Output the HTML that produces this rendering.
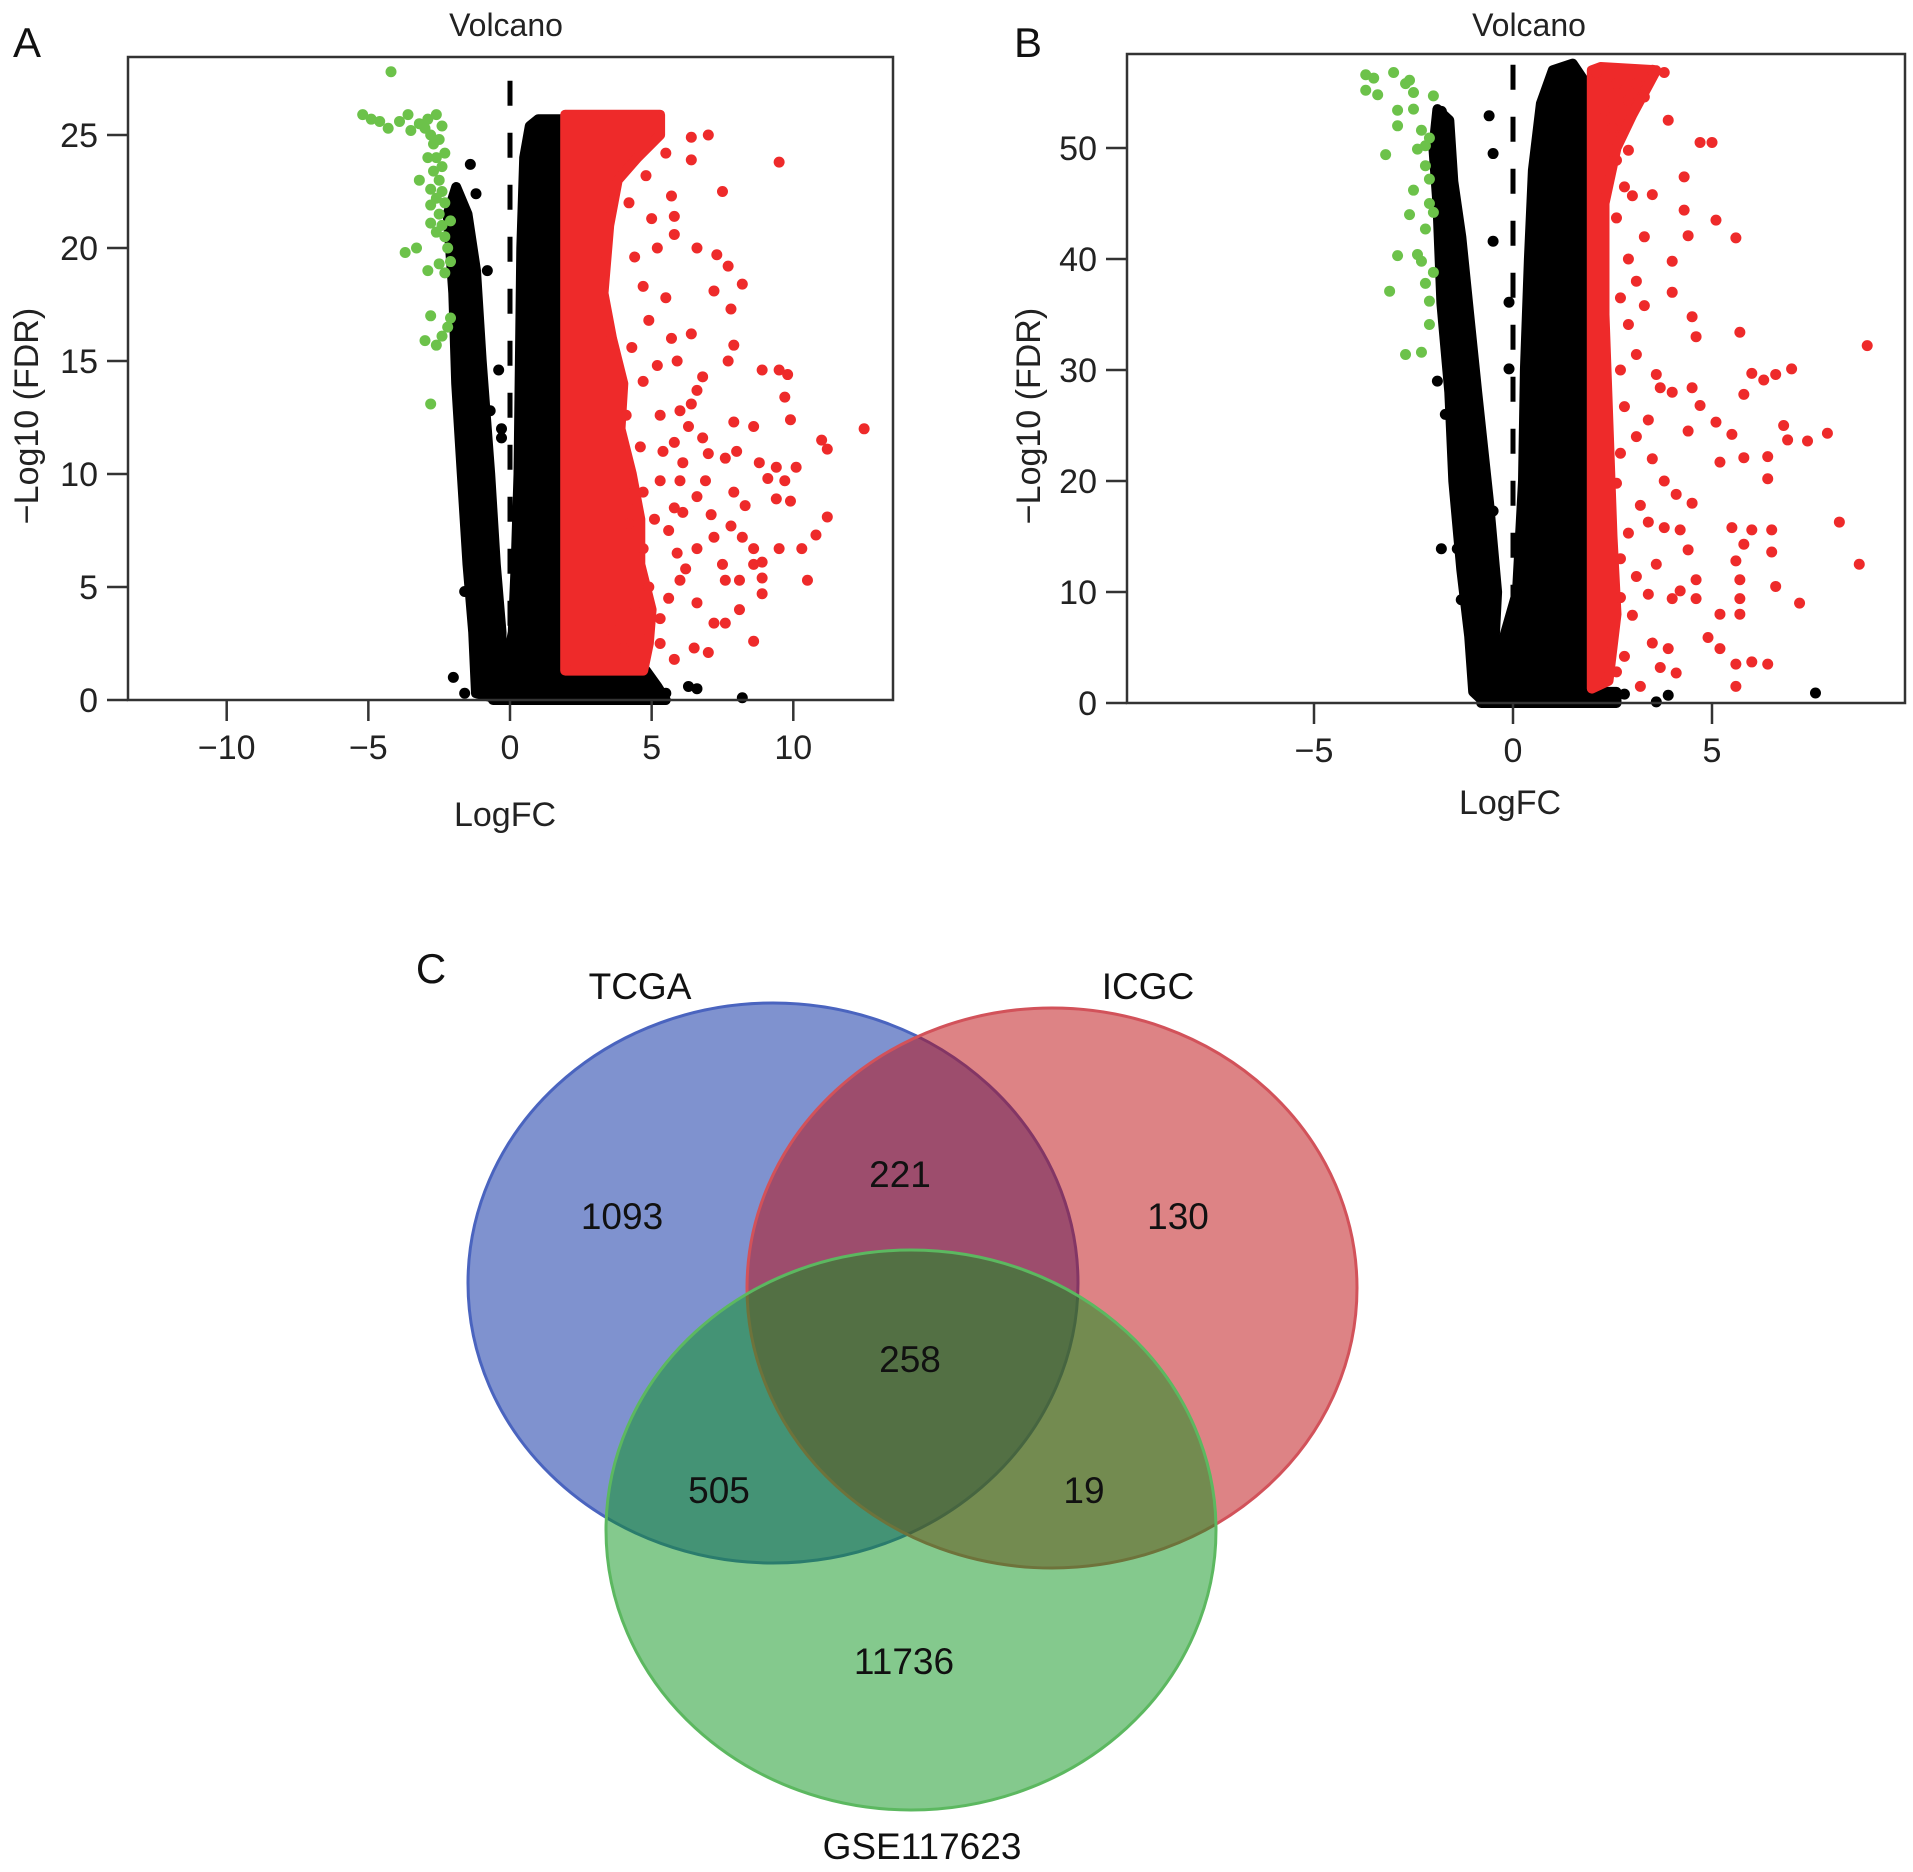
<!DOCTYPE html>
<html><head><meta charset="utf-8"><style>
html,body{margin:0;padding:0;background:#fff;}
svg{display:block;font-family:"Liberation Sans",Arial,sans-serif;}
</style></head><body>
<svg id="fig" width="1913" height="1872" viewBox="0 0 1913 1872" xmlns="http://www.w3.org/2000/svg">
<g id="panelA"></g>
<g id="panelB"></g>
<g id="venn">
  <text x="431" y="983" font-size="42" fill="#111" text-anchor="middle">C</text>
  <ellipse cx="773" cy="1283" rx="305" ry="280" fill="rgba(0,38,160,0.5)" stroke="#4a64bf" stroke-width="3"/>
  <ellipse cx="1052" cy="1288" rx="305" ry="280" fill="rgba(187,7,11,0.5)" stroke="#d2525a" stroke-width="3"/>
  <ellipse cx="911" cy="1530" rx="305" ry="280" fill="rgba(9,147,27,0.5)" stroke="#5cb860" stroke-width="3"/>
  <g font-size="37" fill="#111" text-anchor="middle">
    <text x="640" y="999">TCGA</text>
    <text x="1148" y="999">ICGC</text>
    <text x="922" y="1859">GSE117623</text>
    <text x="622" y="1229">1093</text>
    <text x="900" y="1187">221</text>
    <text x="1178" y="1229">130</text>
    <text x="910" y="1372">258</text>
    <text x="719" y="1503">505</text>
    <text x="1084" y="1503">19</text>
    <text x="904" y="1674">11736</text>
  </g>
</g>
</svg>
<script>
// ---------- Panel A data ----------
const aXTicks = [-10, -5, 0, 5, 10];
const aYTicks = [0, 5, 10, 15, 20, 25];
const aGreen = [[-4.2,27.8],[-5.2,25.9],[-4.9,25.7],[-4.6,25.6],[-4.3,25.3],[-3.9,25.6],[-3.6,25.9],[-3.5,25.2],[-3.2,25.5],[-3.0,25.3],[-2.9,25.7],[-2.6,25.9],[-2.4,25.4],[-2.8,25],[-2.7,24.6],[-2.5,24.8],[-2.3,24.2],[-2.6,24],[-2.9,24],[-2.4,23.6],[-2.7,23.4],[-3.2,23],[-2.5,23],[-2.8,22.6],[-2.4,22.5],[-2.6,22.2],[-2.3,22],[-2.8,21.9],[-2.5,21.5],[-2.8,21.1],[-2.4,21],[-2.6,20.7],[-2.3,20.5],[-2.1,21.2],[-2.2,20],[-3.7,19.8],[-3.3,20],[-2.9,19],[-2.5,19.3],[-2.1,19.4],[-2.3,18.9],[-2.8,17],[-2.1,16.9],[-3.0,15.9],[-2.4,16.1],[-2.6,15.7],[-2.2,16.5],[-2.8,13.1]];
const aRed = [[7.0,25.0],[6.4,24.9],[9.5,23.8],[6.4,23.9],[7.5,22.5],[5.7,22.3],[5.8,21.4],[5.8,20.6],[5.0,21.3],[6.6,20],[5.2,20],[7.3,19.7],[7.7,19.2],[8.2,18.4],[7.2,18.1],[5.5,17.8],[4.7,18.3],[7.8,17.3],[6.4,16.2],[7.9,15.7],[7.7,15],[9.5,14.6],[8.9,14.6],[9.8,14.4],[9.7,13.4],[12.5,12],[9.9,12.4],[11,11.5],[11.2,11.1],[8.6,12.1],[7.9,12.3],[6.8,14.3],[6.4,13.1],[10.1,10.3],[9.4,10.3],[8.8,10.5],[9.7,9.7],[9.1,9.8],[9.4,8.9],[9.9,8.8],[11.2,8.1],[10.8,7.3],[10.3,6.7],[10.5,5.3],[9.5,6.7],[8.9,6.1],[8.6,6],[8.9,5.4],[8.1,5.3],[7.6,5.3],[8.9,4.7],[8.6,2.6],[7,2.1],[8.1,4],[7.6,3.4],[7.2,3.4],[6.6,4.3],[6,5.3],[6.6,6.7],[7.2,7.2],[7.8,7.7],[6.6,9.0],[6,9.7],[5.8,11.4],[7,10.9],[7.6,10.7],[6.3,12.1],[5.3,12.6],[6.6,13.7],[4.7,14.1],[5.2,14.8],[5.7,16],[4.9,16.8],[6.5,2.3],[5.8,1.8],[5.3,3.6],[4.9,5],[4.7,6.7],[4.7,9.2],[4.6,11.2],[5.8,8.5],[5.3,9.7],[6.9,9.7],[7.9,9.2],[8.2,7.2],[8.6,6.7],[7.5,6],[6.2,5.8],[3.6,3.1],[4,2.3],[5.6,7.5],[6.1,8.3],[5.1,8.0],[5.4,11.0],[6.0,12.8],[5.9,15.0],[4.3,15.6],[4.4,19.6],[4.2,22.0],[5.5,24.2],[4.8,23.2],[6.1,10.5],[5.6,4.5],[4.4,4.2],[4.2,7.8],[4.1,12.6],[5.3,2.5],[5.9,6.5],[7.1,8.2],[6.8,11.6],[8.3,8.6],[8.0,11.0]];
const aBlack = [[5.5,0.3],[6.3,0.6],[6.6,0.5],[8.2,0.1],[-2.0,1],[-1.6,0.3],[-1.4,5.5],[-1.2,5.3],[-1.6,4.8],[-1.3,4.3],[-2.0,20.9],[-1.4,23.7],[-1.2,22.4],[-0.8,19],[-0.4,14.6],[-0.3,12],[-0.3,11.6],[-1.0,10.2],[-1.2,8.5],[-0.7,12.8]];
const aBlackMain = [[-0.6,0],[-0.2,1],[0.1,3],[0.2,6],[0.3,10],[0.35,15],[0.4,20],[0.5,24],[0.7,25.4],[1.0,25.7],[1.9,25.7],[1.9,1.3],[4.8,1.3],[5.2,0.6],[5.5,0]];
const aBlackArm = [[-1.2,0.3],[-1.3,3],[-1.5,6],[-1.7,10],[-1.9,14],[-2.0,18],[-2.2,21.5],[-1.9,22.7],[-1.5,21.5],[-1.2,19],[-1.0,15],[-0.7,10],[-0.5,6],[-0.3,3],[-0.3,0]];
const aRedBand = [[1.95,1.3],[1.95,25.9],[5.3,25.9],[5.3,25],[4.5,24],[3.8,23],[3.5,21],[3.3,18],[3.6,16],[4.0,14],[3.9,12],[4.3,10],[4.6,8],[4.6,6],[5.0,4],[4.9,2.5],[4.7,1.3]];
const aDash = [0, 27.4];

// ---------- Panel B data ----------
const bXTicks = [-5, 0, 5];
const bYTicks = [0, 10, 20, 30, 40, 50];
const bGreen = [[-3.7,56.6],[-3.5,56.3],[-3.0,56.8],[-2.6,56.1],[-2.7,55.8],[-3.7,55.2],[-3.4,54.8],[-2.5,55],[-2.0,54.7],[-2.9,53.4],[-2.5,53.5],[-2.9,52],[-2.3,51.6],[-2.1,50.9],[-2.4,49.9],[-2.2,50.2],[-3.2,49.4],[-2.2,48.4],[-2.5,46.2],[-2.1,47.2],[-2.1,45],[-2.0,44.2],[-2.6,44],[-2.2,42.7],[-2.9,40.3],[-2.4,40.4],[-2.3,39.8],[-2,38.8],[-3.1,37.1],[-2.2,37.8],[-2.1,36.2],[-2.1,34.1],[-2.7,31.4],[-2.3,31.6]];
const bRed = [[8.9,32.2],[8.2,16.3],[8.7,12.5],[7.9,24.3],[7.4,23.6],[6.9,23.7],[6.8,25],[7.0,30.1],[6.6,29.6],[6.3,29.1],[6.0,29.7],[5.8,27.8],[5.7,33.4],[5.6,41.9],[5.1,43.5],[4.7,50.5],[5.0,50.5],[4.3,47.4],[4.3,44.4],[4.4,42.1],[3.9,52.5],[3.5,45.8],[4.0,39.8],[4.0,37],[4.5,34.8],[4.6,33],[4.7,26.8],[5.1,25.3],[5.5,24.2],[5.8,22.1],[5.2,21.7],[6.4,22.2],[6.4,20.2],[6.5,15.6],[6.0,15.6],[5.5,15.8],[5.8,14.3],[6.5,13.6],[5.6,12.8],[5.7,11.1],[6.6,10.5],[7.2,9],[5.7,9.4],[5.2,8],[5.7,8],[5.2,4.9],[4.9,5.9],[6.0,3.7],[6.4,3.5],[5.6,3.5],[5.6,1.5],[4.6,11.1],[4.2,10.1],[4.6,9.4],[4.0,9.4],[4.4,13.8],[4.2,15.6],[3.8,15.8],[3.4,16.3],[4.1,18.8],[4.5,18],[3.8,20],[3.5,22],[4.4,24.5],[4.0,28],[3.7,28.4],[4.5,28.4],[3.6,29.6],[3.5,5.4],[3.9,4.9],[3.7,3.2],[4.1,2.7],[3.2,1.5],[3.0,7.9],[3.1,11.4],[2.9,15.3],[3.2,17.8],[2.6,19.8],[3.1,24],[2.8,26.7],[3.1,31.4],[2.9,34.1],[3.3,35.8],[3.1,38],[2.9,40],[3.3,42],[2.6,43.7],[3.0,45.7],[2.6,48.9],[2.9,49.8],[2.5,51.8],[2.3,53.4],[2.1,56.8],[2.6,55.8],[3.1,55.8],[3.5,57],[3.8,56.8],[2.9,54.3],[3.3,54.6],[2.7,9.5],[2.8,4.2],[2.7,13.0],[2.7,22.5],[2.7,30.0],[2.7,36.5],[2.8,46.5],[3.4,25.5],[3.6,12.5],[3.4,9.8],[2.6,2.8]];
const bBlack = [[7.6,0.9],[3.9,0.7],[3.6,0.1],[2.8,0.8],[2.4,0.6],[-1.8,13.9],[-1.4,13.9],[-1.2,14.3],[-1.3,9.3],[-1.9,29],[-1.7,26],[-0.5,17.3],[-0.5,41.6],[-0.6,52.9],[-0.5,49.5],[-0.1,36.1],[-0.1,30.1],[-1.6,50.3],[-1.8,53.3],[-1.0,4.8]];
const bBlackMain = [[-0.8,0],[-0.6,2],[-0.3,5],[0.1,10],[0.25,20],[0.3,30],[0.4,40],[0.5,48],[0.7,54],[1.0,57],[1.5,57.6],[1.8,56],[1.9,52],[1.9,1],[2.6,1],[2.6,0]];
const bBlackArm = [[-1.0,1],[-1.1,6],[-1.3,12],[-1.5,20],[-1.6,28],[-1.8,36],[-1.9,45],[-2.0,50],[-1.9,53.5],[-1.6,52.5],[-1.5,47],[-1.3,42],[-1.1,35],[-0.9,28],[-0.6,18],[-0.4,10],[-0.5,3],[-0.7,0]];
const bRedBand = [[1.98,1.3],[2.4,2],[2.6,8],[2.5,15],[2.4,25],[2.3,35],[2.3,45],[2.6,50],[3.0,53],[3.6,57],[2.2,57.3],[1.98,57]];
const bDash = [0, 57.5];

const NS = "http://www.w3.org/2000/svg";
function mk(tag, attrs, parent){const e=document.createElementNS(NS,tag);for(const k in attrs)e.setAttribute(k,attrs[k]);parent.appendChild(e);return e;}

function drawPanel(g, cfg){
  const sx = v => cfg.x0 + v*cfg.kx;
  const sy = v => cfg.y0 - v*cfg.ky;
  const pts = arr => arr.map(p => sx(p[0]).toFixed(1)+","+sy(p[1]).toFixed(1)).join(" ");
  const bm = mk("polygon",{points:pts(cfg.blackMain),fill:"#000",stroke:"#000","stroke-width":10,"stroke-linejoin":"round"},g);
  
  
  const ba = mk("polygon",{points:pts(cfg.blackArm),fill:"#000",stroke:"#000","stroke-width":10,"stroke-linejoin":"round"},g);
  
  
  const rb = mk("polygon",{points:pts(cfg.redBand),fill:"#ee2a2a",stroke:"#ee2a2a","stroke-width":10,"stroke-linejoin":"round"},g);
  
  
  cfg.black.forEach(p=>{const c=mk("circle",{cx:sx(p[0]),cy:sy(p[1]),r:5.5,fill:"#000"},g);
    
    });
  cfg.red.forEach(p=>{const c=mk("circle",{cx:sx(p[0]),cy:sy(p[1]),r:5.5,fill:"#ee2a2a"},g);
    
    });
  cfg.green.forEach(p=>{const c=mk("circle",{cx:sx(p[0]),cy:sy(p[1]),r:5.5,fill:"#6cc24a"},g);
    
    });
  const dl = mk("line",{x1:sx(0),x2:sx(0),y1:sy(cfg.dash[1]),y2:sy(cfg.dash[0]),stroke:"#000","stroke-width":5,"stroke-dasharray":"25 27"},g);
  
  
  const bx = mk("rect",{x:cfg.bx0,y:cfg.by0,width:cfg.bx1-cfg.bx0,height:cfg.y0-cfg.by0,fill:"none",stroke:"#333","stroke-width":2.5},g);
  
  
  cfg.xt.forEach(t=>{
    const l=mk("line",{x1:sx(t),x2:sx(t),y1:cfg.y0,y2:cfg.y0+21,stroke:"#333","stroke-width":2.5},g);
    
    
    const tx=mk("text",{x:sx(t),y:cfg.y0+59,"font-size":34,"text-anchor":"middle",fill:"#222"},g);
    tx.textContent = t<0 ? "\u2212"+Math.abs(t) : String(t);
    
    
  });
  cfg.yt.forEach(t=>{
    const l=mk("line",{x1:cfg.bx0-21,x2:cfg.bx0,y1:sy(t),y2:sy(t),stroke:"#333","stroke-width":2.5},g);
    
    
    const tx=mk("text",{x:cfg.bx0-30,y:sy(t)+12,"font-size":34,"text-anchor":"end",fill:"#222"},g);
    tx.textContent = String(t);
    
    
  });
  const tt=mk("text",{x:cfg.titleX,y:36,"font-size":32,"text-anchor":"middle",fill:"#222"},g);
  tt.textContent="Volcano";
  
  
  const xl=mk("text",{x:cfg.xlabX,y:cfg.xlabY,"font-size":34,"text-anchor":"middle",fill:"#222"},g);
  xl.textContent="LogFC";
  
  
  const yl=mk("text",{x:0,y:0,"font-size":34,"text-anchor":"middle",fill:"#222",transform:"translate("+cfg.ylabX+",416) rotate(-90)"},g);
  yl.textContent="\u2212Log10 (FDR)";
  
  
  const pl=mk("text",{x:cfg.letterX,y:57,"font-size":42,"text-anchor":"middle",fill:"#111"},g);
  pl.textContent=cfg.letter;
  
  
}

drawPanel(document.getElementById("panelA"),{
  x0:510, kx:28.33, y0:700, ky:22.6, bx0:128, bx1:893, by0:57,
  xt:aXTicks, yt:aYTicks, green:aGreen, red:aRed, black:aBlack,
  blackMain:aBlackMain, blackArm:aBlackArm, redBand:aRedBand, dash:aDash,
  titleX:506, xlabX:505, xlabY:826, ylabX:38, letter:"A", letterX:27
});
drawPanel(document.getElementById("panelB"),{
  x0:1513, kx:39.8, y0:703, ky:11.1, bx0:1127, bx1:1905, by0:54,
  xt:bXTicks, yt:bYTicks, green:bGreen, red:bRed, black:bBlack,
  blackMain:bBlackMain, blackArm:bBlackArm, redBand:bRedBand, dash:bDash,
  titleX:1529, xlabX:1510, xlabY:814, ylabX:1040, letter:"B", letterX:1028
});
</script>
</body></html>
